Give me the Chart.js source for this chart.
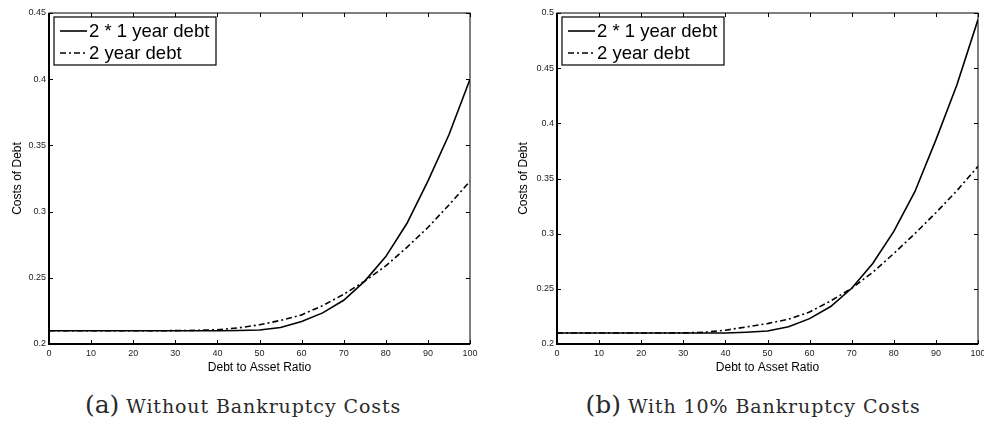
<!DOCTYPE html>
<html>
<head>
<meta charset="utf-8">
<script src="https://cdn.jsdelivr.net/npm/chart.js@4.4.0/dist/chart.umd.min.js"></script>
<style>
  body { margin: 0; background: #fff; width: 984px; height: 425px; overflow: hidden; position: relative; }
  .panel { position: absolute; top: 0; width: 492px; height: 376px; }
  #boxA { left: 0; }
  #boxB { left: 492px; }
  .cap { position: absolute; top: 390px; height: 30px; line-height: 30px; font-family: "DejaVu Serif", serif; font-size: 19px; letter-spacing: 0.9px; color: #2a2a2a; white-space: nowrap; transform: translateX(-50%); }
  .cap .tag { font-size: 25px; letter-spacing: 0; }
</style>
</head>
<body>
<div class="panel" id="boxA"><canvas id="chartA"></canvas></div>
<div class="panel" id="boxB"><canvas id="chartB"></canvas></div>
<div class="cap" style="left:243px"><span class="tag">(a)</span> Without Bankruptcy Costs</div>
<div class="cap" style="left:753px"><span class="tag">(b)</span> With 10% Bankruptcy Costs</div>
<script>
// debt to asset ratio, every 5%
const debtRatio = [0, 5, 10, 15, 20, 25, 30, 35, 40, 45, 50, 55, 60, 65, 70, 75, 80, 85, 90, 95, 100];
const xTicks = [0, 10, 20, 30, 40, 50, 60, 70, 80, 90, 100];

// (a) without bankruptcy costs
const shortA = [0.21, 0.21, 0.21, 0.21, 0.21, 0.21, 0.21, 0.21, 0.21, 0.2102, 0.2106, 0.2125, 0.217, 0.2235, 0.233, 0.2475, 0.266, 0.291, 0.323, 0.358, 0.400];
const longA = [0.21, 0.21, 0.21, 0.21, 0.21, 0.21, 0.2101, 0.2103, 0.2108, 0.2122, 0.2145, 0.2178, 0.222, 0.229, 0.2375, 0.2475, 0.259, 0.273, 0.288, 0.305, 0.323];
const yTicksA = [0.2, 0.25, 0.3, 0.35, 0.4, 0.45];

// (b) with 10% bankruptcy costs
const shortB = [0.21, 0.21, 0.21, 0.21, 0.21, 0.21, 0.21, 0.21, 0.21, 0.2107, 0.2118, 0.2157, 0.223, 0.234, 0.2505, 0.273, 0.302, 0.338, 0.385, 0.435, 0.494];
const longB = [0.21, 0.21, 0.21, 0.21, 0.21, 0.21, 0.2101, 0.2106, 0.2125, 0.2155, 0.2185, 0.2225, 0.229, 0.239, 0.2505, 0.265, 0.282, 0.300, 0.319, 0.339, 0.361];
const yTicksB = [0.2, 0.25, 0.3, 0.35, 0.4, 0.45, 0.5];

const seriesNames = ['2 * 1 year debt', '2 year debt'];

const sans = '"Liberation Sans", Arial, sans-serif';

// box around the axes, inward ticks on all sides, legend in the corner
const framePlugin = {
  id: 'frame',
  afterDatasetsDraw(chart) {
    const { ctx, chartArea: a, scales: { x, y } } = chart;
    ctx.save();
    ctx.strokeStyle = '#000';
    ctx.lineWidth = 1;
    ctx.strokeRect(a.left, a.top, a.width, a.height);
    ctx.lineWidth = 2;
    ctx.beginPath();
    ctx.moveTo(a.left, a.top);
    ctx.lineTo(a.left, a.bottom);
    ctx.lineTo(a.right, a.bottom);
    ctx.stroke();

    ctx.lineWidth = 1;
    ctx.beginPath();
    x.ticks.forEach(t => {
      const px = Math.round(x.getPixelForValue(t.value)) + 0.5;
      ctx.moveTo(px, a.bottom); ctx.lineTo(px, a.bottom - 4);
      ctx.moveTo(px, a.top); ctx.lineTo(px, a.top + 4);
    });
    y.ticks.forEach(t => {
      const py = Math.round(y.getPixelForValue(t.value)) + 0.5;
      ctx.moveTo(a.left, py); ctx.lineTo(a.left + 4, py);
      ctx.moveTo(a.right, py); ctx.lineTo(a.right - 4, py);
    });
    ctx.stroke();

    // legend
    const lx = a.left + 5, ly = a.top + 4, lw = 162, lh = 48;
    ctx.fillStyle = '#fff';
    ctx.fillRect(lx, ly, lw, lh);
    ctx.lineWidth = 1.2;
    ctx.strokeStyle = '#000';
    ctx.strokeRect(lx, ly, lw, lh);
    ctx.font = '18.5px ' + sans;
    ctx.textBaseline = 'middle';
    ctx.fillStyle = '#000';
    chart.data.datasets.forEach((ds, i) => {
      const ry = ly + 14 + i * 22;
      ctx.save();
      ctx.lineWidth = ds.borderWidth;
      ctx.setLineDash(ds.borderDash || []);
      ctx.beginPath();
      ctx.moveTo(lx + 6, ry);
      ctx.lineTo(lx + 33, ry);
      ctx.stroke();
      ctx.restore();
      ctx.fillText(ds.label, lx + 35, ry + 1);
    });
    ctx.restore();
  }
};

function makeChart(id, shortVals, longVals, yTicks, yWidth, titlePad, rightPad) {
  const ctx = document.getElementById(id).getContext('2d');
  return new Chart(ctx, {
    type: 'line',
    data: {
      labels: debtRatio,
      datasets: [
        {
          label: seriesNames[0],
          data: debtRatio.map((r, i) => ({ x: r, y: shortVals[i] })),
          borderColor: '#000',
          borderWidth: 1.6,
          pointRadius: 0,
          tension: 0
        },
        {
          label: seriesNames[1],
          data: debtRatio.map((r, i) => ({ x: r, y: longVals[i] })),
          borderColor: '#000',
          borderWidth: 1.6,
          borderDash: [6, 3, 2, 3],
          pointRadius: 0,
          tension: 0
        }
      ]
    },
    options: {
      responsive: true,
      maintainAspectRatio: false,
      animation: false,
      layout: { padding: { top: 13, right: rightPad, bottom: 0, left: 0 } },
      plugins: { legend: { display: false }, tooltip: { enabled: false } },
      scales: {
        x: {
          type: 'linear',
          min: 0,
          max: 100,
          afterBuildTicks: s => { s.ticks = xTicks.map(v => ({ value: v })); },
          afterFit: s => { s.height = 32; s.paddingLeft = 0; s.paddingRight = 0; },
          grid: { display: false, drawTicks: false },
          border: { display: false },
          ticks: { maxRotation: 0, autoSkip: false, padding: 4, color: '#222', font: { family: sans, size: 9 } },
          title: { display: true, text: 'Debt to Asset Ratio', color: '#000', padding: { top: 0, bottom: 1 }, font: { family: sans, size: 12 } }
        },
        y: {
          min: yTicks[0],
          max: yTicks[yTicks.length - 1],
          afterBuildTicks: s => { s.ticks = yTicks.map(v => ({ value: v })); },
          afterFit: s => { s.width = yWidth; s.paddingTop = 0; s.paddingBottom = 0; },
          grid: { display: false, drawTicks: false },
          border: { display: false },
          ticks: {
            autoSkip: false, padding: 3, color: '#222', font: { family: sans, size: 9 },
            callback: v => String(Number(v.toFixed(2)))
          },
          title: { display: true, text: 'Costs of Debt', color: '#000', padding: { top: titlePad, bottom: 0 }, font: { family: sans, size: 12 } }
        }
      }
    },
    plugins: [framePlugin]
  });
}

makeChart('chartA', shortA, longA, yTicksA, 49, 10, 22);
makeChart('chartB', shortB, longB, yTicksB, 65, 24, 6);
</script>
</body>
</html>
